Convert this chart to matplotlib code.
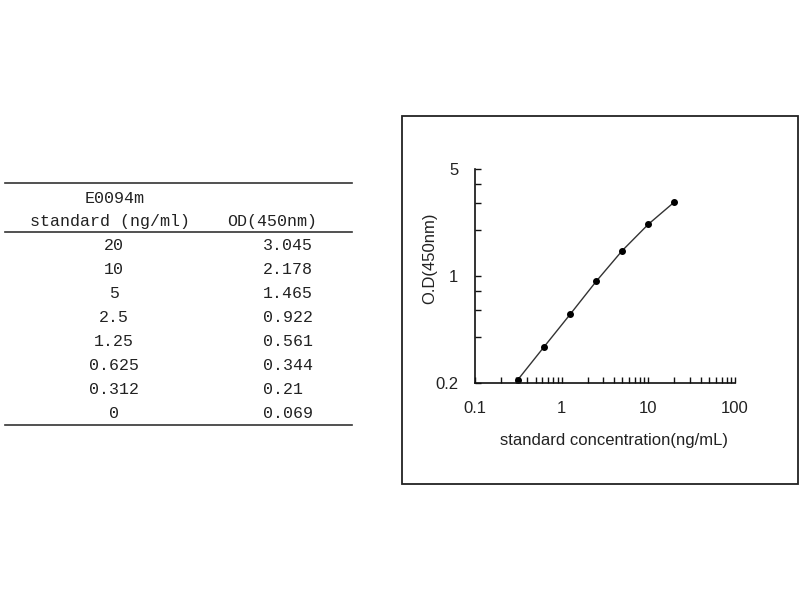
import matplotlib.pyplot as plt
from matplotlib.lines import Line2D
from matplotlib.patches import Rectangle
from matplotlib.ticker import FixedLocator, NullFormatter

# standard curve data (E0094m)
conc_labels = ['20', '10', '5', '2.5', '1.25', '0.625', '0.312', '0']
od_labels = ['3.045', '2.178', '1.465', '0.922', '0.561', '0.344', '0.21', '0.069']
conc = [20, 10, 5, 2.5, 1.25, 0.625, 0.312, 0]
od = [3.045, 2.178, 1.465, 0.922, 0.561, 0.344, 0.21, 0.069]

x_major = [0.1, 1, 10, 100]
x_major_labels = ['0.1', '1', '10', '100']
y_major = [0.2, 1, 5]
y_major_labels = ['0.2', '1', '5']
y_minor = [0.4, 0.6, 0.8, 2, 3, 4]

W, H = 800, 600
fig = plt.figure(figsize=(8, 6), dpi=100)


def fx(px):
    return px / W


def fy(py):
    return 1 - py / H


# ---- table on the left ----
mono = ['Liberation Mono', 'DejaVu Sans Mono']
tcolor = '#222222'
for y in (183, 232, 425):
    fig.add_artist(Line2D([fx(5), fx(352)], [fy(y), fy(y)],
                          transform=fig.transFigure, color='#333333', lw=1.2))

fig.text(fx(115), fy(198), 'E0094m', ha='center', va='center',
         family=mono, fontsize=12, color=tcolor)
fig.text(fx(110), fy(221), 'standard (ng/ml)', ha='center', va='center',
         family=mono, fontsize=12, color=tcolor)
fig.text(fx(272), fy(221), 'OD(450nm)', ha='center', va='center',
         family=mono, fontsize=12, color=tcolor)

row_y = 246
for c_lab, o_lab in zip(conc_labels, od_labels):
    fig.text(fx(114), fy(row_y), c_lab, ha='center', va='center',
             family=mono, fontsize=12, color=tcolor)
    fig.text(fx(263), fy(row_y), o_lab, ha='left', va='center',
             family=mono, fontsize=12, color=tcolor)
    row_y += 24.0

# ---- boxed chart on the right ----
fig.add_artist(Rectangle((fx(402), fy(484)), (798 - 402) / W, (484 - 116) / H,
                         transform=fig.transFigure, fill=False,
                         edgecolor='#222222', lw=1.3))

ax = fig.add_axes([fx(475), fy(383), (735 - 475) / W, (383 - 169) / H])
pts = [(c, o) for c, o in zip(conc, od) if c > 0]
px = [p[0] for p in pts]
py = [p[1] for p in pts]
ax.plot(px, py, color='#333333', lw=1.0, marker='o', markersize=4,
        markerfacecolor='black', markeredgecolor='black')

ax.set_xscale('log')
ax.set_yscale('log')
ax.set_xlim(0.1, 100)
ax.set_ylim(0.2, 5)

ax.xaxis.set_major_locator(FixedLocator(x_major))
ax.set_xticklabels(x_major_labels)
x_minor = [m * d for d in (0.1, 1, 10) for m in range(2, 10)]
ax.xaxis.set_minor_locator(FixedLocator(x_minor))
ax.xaxis.set_minor_formatter(NullFormatter())

ax.yaxis.set_major_locator(FixedLocator(y_major))
ax.set_yticklabels(y_major_labels)
ax.yaxis.set_minor_locator(FixedLocator(y_minor))
ax.yaxis.set_minor_formatter(NullFormatter())

for side in ('top', 'right'):
    ax.spines[side].set_visible(False)
for side in ('left', 'bottom'):
    ax.spines[side].set_linewidth(1.2)
    ax.spines[side].set_color('#111111')

ax.tick_params(which='both', direction='in', length=4, width=1, color='#111111')
ax.tick_params(axis='x', which='major', pad=13, labelsize=12)
ax.tick_params(axis='y', which='major', pad=12, labelsize=12)
for lab in ax.get_xticklabels() + ax.get_yticklabels():
    lab.set_family(['Liberation Sans', 'DejaVu Sans'])
    lab.set_color('#222222')

fig.text(fx(430), fy(258), 'O.D(450nm)', rotation=90, ha='center', va='center',
         family=['Liberation Sans', 'DejaVu Sans'], fontsize=12, color='#222222')
fig.text(fx(614), fy(440), 'standard concentration(ng/mL)', ha='center', va='center',
         family=['Liberation Sans', 'DejaVu Sans'], fontsize=12, color='#222222')

fig.savefig('out.png', dpi=100)
